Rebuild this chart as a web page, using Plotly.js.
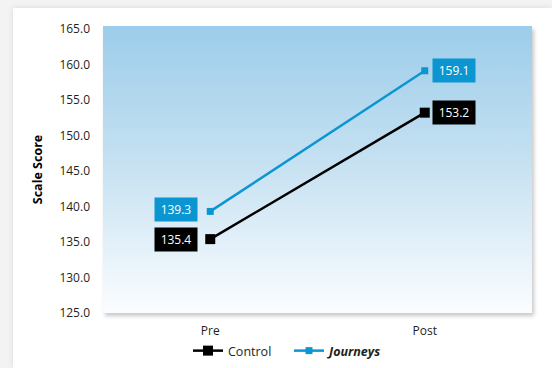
<!DOCTYPE html>
<html>
<head>
<meta charset="utf-8">
<script src="https://cdn.plot.ly/plotly-3.0.1.min.js"></script>
<style>
  html, body { margin: 0; padding: 0; width: 552px; height: 368px; overflow: hidden; background: #f3f3f3; }
  #card { position: absolute; left: 13px; top: 8px; right: 0; bottom: 0; background: #ffffff;
          box-shadow: 0 0 6px rgba(0,0,0,0.10); }
  #plotbg { position: absolute; background: linear-gradient(to bottom, #9ccdea 0%, #c8e2f2 50%, #fbfdff 100%);
            box-shadow: 2px 3px 4px rgba(0,0,0,0.22); }
  #chart { position: absolute; left: 0; top: 0; width: 552px; height: 368px; }
</style>
</head>
<body>
<div id="card"></div>
<div id="plotbg"></div>
<div id="chart"></div>
<script>
// Scale scores before and after the program
const categories = ['Pre', 'Post'];
const controlScores = [135.4, 153.2];
const journeysScores = [139.3, 159.1];
const yTickValues = [125, 130, 135, 140, 145, 150, 155, 160, 165];

const BLUE = '#0b96d2';
const FONT = '"Open Sans", "Noto Sans", sans-serif';

const W = 552, H = 368;
const margin = { l: 103, r: 20, t: 26, b: 55 };

// gradient panel sits behind the transparent plot area
const bg = document.getElementById('plotbg');
bg.style.left = margin.l + 'px';
bg.style.top = margin.t + 'px';
bg.style.width = (W - margin.l - margin.r) + 'px';
bg.style.height = (H - margin.t - margin.b) + 'px';

const traces = [
  {
    x: categories, y: controlScores, name: 'Control', type: 'scatter', mode: 'lines+markers',
    line: { color: '#000000', width: 2.5 },
    marker: { symbol: 'square', size: 10, color: '#000000' }
  },
  {
    x: categories, y: journeysScores, name: '<b><i>Journeys</i></b>', type: 'scatter', mode: 'lines+markers',
    line: { color: BLUE, width: 2.5 },
    marker: { symbol: 'square', size: 7, color: BLUE }
  }
];

// value boxes: left of the Pre points, right of the Post points
const annotations = [];
function addLabels(values, color, yShiftPre) {
  values.forEach((v, i) => {
    const pre = i === 0;
    annotations.push({
      x: categories[i], y: v, xref: 'x', yref: 'y',
      text: v.toFixed(1), showarrow: false,
      xanchor: pre ? 'right' : 'left', yanchor: 'middle',
      xshift: pre ? -12 : 7, yshift: pre ? yShiftPre : 0,
      bgcolor: color, width: 40, height: 21, align: 'center',
      font: { family: FONT, size: 12, color: '#ffffff' }
    });
  });
}
addLabels(controlScores, '#000000', 0);
addLabels(journeysScores, BLUE, 2);

const layout = {
  width: W, height: H, margin: margin,
  paper_bgcolor: 'rgba(0,0,0,0)', plot_bgcolor: 'rgba(0,0,0,0)',
  font: { family: FONT, size: 12, color: '#231f20' },
  showlegend: true,
  legend: {
    orientation: 'h', xref: 'container', yref: 'container',
    x: 188 / W, xanchor: 'left', y: 1 - 351 / H, yanchor: 'middle',
    font: { family: FONT, size: 12.5, color: '#231f20' },
    bgcolor: 'rgba(0,0,0,0)', itemwidth: 30, entrywidth: 56, entrywidthmode: 'pixels'
  },
  xaxis: {
    type: 'category', range: [-0.5, 1.5], showgrid: false, zeroline: false, showline: false,
    ticks: '', tickfont: { family: FONT, size: 12, color: '#231f20' }, ticklabelstandoff: 9
  },
  yaxis: {
    range: [125, 165.4], tickvals: yTickValues, tickformat: '.1f',
    showgrid: false, zeroline: false, showline: false, ticks: '',
    tickfont: { family: FONT, size: 12, color: '#231f20' }, ticklabelstandoff: 12,
    title: { text: '<b>Scale Score</b>', font: { family: FONT, size: 12.5, color: '#000000' }, standoff: 14 }
  },
  annotations: annotations
};

Plotly.newPlot('chart', traces, layout, { displayModeBar: false, staticPlot: true });
</script>
</body>
</html>
